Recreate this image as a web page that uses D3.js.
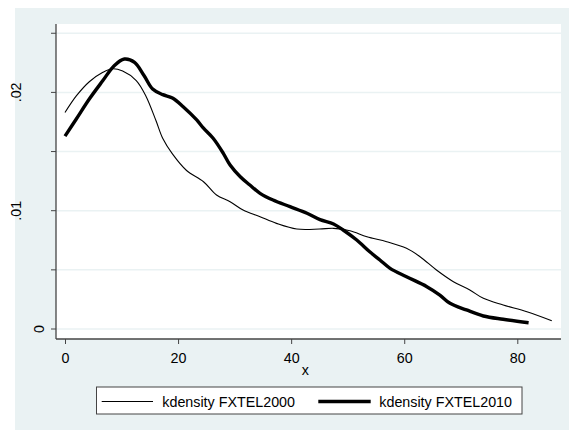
<!DOCTYPE html>
<html><head><meta charset="utf-8">
<script src="https://cdn.jsdelivr.net/npm/d3@7"></script>
<style>
html,body{margin:0;padding:0;background:#fff;}
svg{display:block;font-family:"Liberation Sans",Arial,sans-serif;}
</style></head>
<body>
<svg id="chart" width="569" height="430"></svg>
<script>
// Data
const x2000 = [0, 2, 4.3, 6.7, 8.4, 10.2, 12.6, 14.3, 16.1, 17.3, 19, 21.5, 24.5, 26.8, 29.2, 31.5, 34.5, 37.4, 41, 45, 47.5, 50.4, 53.4, 56.9, 60.4, 62.8, 65.7, 68.7, 71.6, 74, 77.5, 81.7, 86.1];
const d2000 = [.0183, .0197, .0209, .0217, .0220, .0218, .0210, .0197, .0176, .0161, .0148, .0134, .01245, .01133, .01076, .01006, .00949, .00893, .00845, .00845, .00851, .00831, .0078, .00738, .00682, .00611, .00499, .0040, .0033, .00259, .00203, .00146, .0007];
const x2010 = [0, 2, 4.3, 6.7, 8.7, 10.5, 12.3, 14, 15.5, 17.3, 19, 20.9, 23.3, 24.5, 26.2, 28, 29.2, 31, 32.7, 34.5, 36.8, 39.8, 42.8, 45.1, 47.5, 49.2, 51.6, 53.9, 55.7, 57.5, 60.4, 64, 66.3, 68.1, 71, 74, 77.5, 82];
const d2010 = [.0163, .01775, .01944, .0210, .02226, .02282, .02254, .02141, .02029, .01981, .01953, .01879, .01767, .01697, .01612, .01485, .01386, .01287, .01217, .01147, .0109, .01034, .00978, .00924, .00888, .00837, .00752, .00653, .00583, .00513, .00442, .00358, .00287, .00217, .00161, .0011, .00082, .00053];
const xTicks = [0, 20, 40, 60, 80];
const yTicks = [0, 0.005, 0.01, 0.015, 0.02, 0.025];
const yLabels = {"0": "0", "0.01": ".01", "0.02": ".02"};
const legendLabels = ["kdensity FXTEL2000", "kdensity FXTEL2010"];
const xTitle = "x";

const svg = d3.select("#chart");
const bg = "#eaf2f3";
const fs = 14.3;

// graph region
svg.append("rect").attr("x", 15).attr("y", 8).attr("width", 554).attr("height", 422).attr("fill", bg);
// plot region
const L = 56, R = 561, T = 24, B = 339;
svg.append("rect").attr("x", L).attr("y", T).attr("width", R - L).attr("height", B - T).attr("fill", "#fff");

const x = d3.scaleLinear().domain([0, 80]).range([65, 517.3]);
const y = d3.scaleLinear().domain([0, 0.02]).range([329, 92.4]);

// gridlines
svg.append("g").selectAll("line").data(yTicks).join("line")
  .attr("x1", L).attr("x2", R).attr("y1", d => y(d)).attr("y2", d => y(d))
  .attr("stroke", bg).attr("stroke-width", 1.5);

// y axis
const yAx = svg.append("g").attr("transform", `translate(${L},0)`)
  .call(d3.axisLeft(y).tickValues(yTicks).tickSize(5).tickSizeOuter(0).tickFormat(d => yLabels[String(+d.toFixed(3))] || ""));
yAx.select(".domain").attr("d", `M0,${T}V${B}`).attr("stroke", "#444").attr("stroke-width", 1.3);
yAx.selectAll(".tick line").attr("stroke", "#444");
yAx.selectAll(".tick text").each(function(d) {
  const s = this.textContent;
  const bx = 43.5 - (s.length - 1) * 11.2;
  d3.select(this).attr("x", null).attr("dy", null).attr("text-anchor", "middle")
    .attr("transform", `translate(${bx - L},${y(d)}) rotate(-90)`).attr("y", 0);
});
yAx.selectAll(".tick").attr("transform", d => "translate(0,0)");
yAx.selectAll(".tick line").attr("y1", d => y(d)).attr("y2", d => y(d));
yAx.selectAll("text").attr("font-size", fs).attr("font-family", "Liberation Sans, Arial, sans-serif").attr("fill", "#000");

// x axis
const xAx = svg.append("g").attr("transform", `translate(0,${B})`)
  .call(d3.axisBottom(x).tickValues(xTicks).tickSize(5).tickSizeOuter(0).tickPadding(9));
xAx.select(".domain").attr("d", `M${L},0H${R}`).attr("stroke", "#444").attr("stroke-width", 1.3);
xAx.selectAll(".tick line").attr("stroke", "#444");
xAx.selectAll("text").attr("font-size", fs).attr("font-family", "Liberation Sans, Arial, sans-serif").attr("fill", "#000");

svg.append("text").attr("x", x(42.5)).attr("y", 375).attr("text-anchor", "middle")
  .attr("font-size", fs).attr("fill", "#000").text(xTitle);

// curves
const line = d3.line().x(d => x(d[0])).y(d => y(d[1])).curve(d3.curveCatmullRom.alpha(0.5));
const s2000 = x2000.map((v, i) => [v, d2000[i]]);
const s2010 = x2010.map((v, i) => [v, d2010[i]]);
svg.append("path").datum(s2000).attr("d", line).attr("fill", "none").attr("stroke", "#000").attr("stroke-width", 1.1);
svg.append("path").datum(s2010).attr("d", line).attr("fill", "none").attr("stroke", "#000").attr("stroke-width", 3.4).attr("stroke-linejoin", "round");

// legend
svg.append("rect").attr("x", 96.5).attr("y", 387).attr("width", 425.5).attr("height", 27)
  .attr("fill", "#fff").attr("stroke", "#444").attr("stroke-width", 1);
const leg = [{x0: 101.7, x1: 153, tx: 162.3, w: 1.1}, {x0: 318.3, x1: 370.7, tx: 379.3, w: 3.4}];
leg.forEach((l, i) => {
  svg.append("line").attr("x1", l.x0).attr("x2", l.x1).attr("y1", 401.5).attr("y2", 401.5)
    .attr("stroke", "#000").attr("stroke-width", l.w);
  svg.append("text").attr("x", l.tx).attr("y", 406.5).attr("font-size", fs).attr("fill", "#000").text(legendLabels[i]);
});
</script>
</body></html>
